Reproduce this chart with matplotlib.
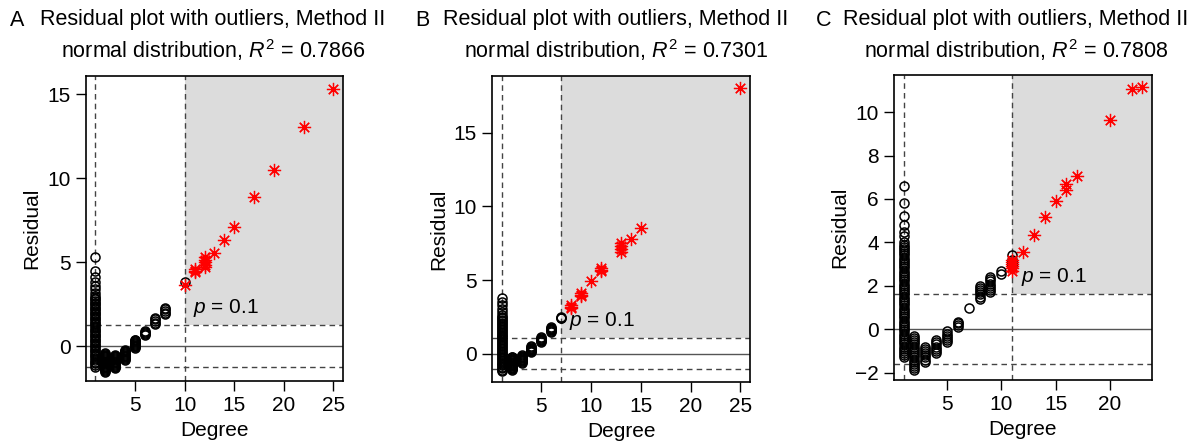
import matplotlib
matplotlib.use("Agg")
import matplotlib.pyplot as plt
import numpy as np

plt.rcParams['font.family'] = ['Liberation Sans', 'DejaVu Sans']
plt.rcParams['mathtext.fontset'] = 'custom'
plt.rcParams['mathtext.rm'] = 'Liberation Sans'
plt.rcParams['mathtext.it'] = 'Liberation Sans:italic'

# ---- data: degree -> residuals ----
circles_A = {
    1: [-1.2, -1.1, -1.0, -0.9, -0.8, -0.7, -0.6, -0.5, -0.4, -0.3, -0.2, -0.1, 0.0, 0.1, 0.2,
        0.3, 0.4, 0.5, 0.6, 0.7, 0.8, 0.9, 1.0, 1.1, 1.2, 1.3, 1.4, 1.5, 1.6, 1.7, 1.8, 1.9,
        2.0, 2.1, 2.2, 2.3, 2.4, 2.5, 2.6, 2.7, 2.8, 2.9, 3.0, 3.2, 3.4, 3.6, 3.8, 4.1, 4.5, 5.3],
    2: [-1.5, -1.45, -1.4, -1.35, -1.3, -1.25, -1.2, -1.15, -1.1, -1.05, -1.0, -0.95, -0.9,
        -0.85, -0.8, -0.75, -0.7, -0.65, -0.6, -0.55, -0.5, -0.45, -0.4],
    3: [-1.3, -1.25, -1.2, -1.15, -1.1, -1.05, -1.0, -0.95, -0.9, -0.85, -0.8, -0.75, -0.7,
        -0.65, -0.6, -0.55, -0.5],
    4: [-0.8, -0.75, -0.7, -0.65, -0.6, -0.55, -0.5, -0.45, -0.4, -0.35, -0.3, -0.25, -0.2],
    5: [-0.1, -0.05, 0.0, 0.05, 0.1, 0.15, 0.2, 0.25, 0.3, 0.35, 0.4],
    6: [0.7, 0.75, 0.8, 0.85, 0.9],
    7: [1.3, 1.4, 1.5, 1.6, 1.7],
    8: [1.9, 2.0, 2.1, 2.2, 2.3],
    10: [3.8],
}
stars_A = {
    10: [3.65], 11: [4.4, 4.5, 4.6], 12: [4.7, 4.85, 5.0, 5.15, 5.3], 13: [5.55],
    14: [6.35], 15: [7.1], 17: [8.85], 19: [10.5], 22: [13.05], 25: [15.3],
}

circles_B = {
    1: [-1.2, -1.1, -1.0, -0.9, -0.8, -0.7, -0.6, -0.5, -0.4, -0.3, -0.2, -0.1, 0.0, 0.1, 0.2,
        0.3, 0.4, 0.5, 0.6, 0.7, 0.8, 0.9, 1.0, 1.1, 1.2, 1.3, 1.4, 1.5, 1.6, 1.7, 1.8, 1.9,
        2.0, 2.1, 2.2, 2.3, 2.4, 2.5, 2.6, 2.8, 3.0, 3.3, 3.5, 3.8],
    2: [-1.1, -1.05, -1.0, -0.95, -0.9, -0.85, -0.8, -0.75, -0.7, -0.65, -0.6, -0.55, -0.5,
        -0.45, -0.4, -0.35, -0.3, -0.25, -0.2],
    3: [-0.6, -0.55, -0.5, -0.45, -0.4, -0.35, -0.3, -0.25, -0.2, -0.15, -0.1],
    4: [0.1, 0.15, 0.2, 0.25, 0.3, 0.35, 0.4, 0.45, 0.5],
    5: [0.8, 0.85, 0.9, 0.95, 1.0, 1.05, 1.1],
    6: [1.5, 1.55, 1.6, 1.65, 1.7, 1.75, 1.8],
    7: [2.4, 2.45, 2.5],
}
stars_B = {
    8: [3.1, 3.2, 3.3], 9: [3.9, 4.0, 4.1], 10: [4.9], 11: [5.6, 5.7, 5.8],
    13: [6.9, 7.1, 7.3, 7.5], 14: [7.8], 15: [8.5], 25: [18.0],
}

circles_C = {
    1: [-1.3, -1.2, -1.1, -1.0, -0.9, -0.8, -0.7, -0.6, -0.5, -0.4, -0.3, -0.2, -0.1, 0.0,
        0.1, 0.2, 0.3, 0.4, 0.5, 0.6, 0.7, 0.8, 0.9, 1.0, 1.1, 1.2, 1.3, 1.4, 1.5, 1.6, 1.7,
        1.8, 1.9, 2.0, 2.1, 2.2, 2.3, 2.4, 2.5, 2.6, 2.7, 2.8, 2.9, 3.0, 3.1, 3.2, 3.3, 3.4,
        3.5, 3.6, 3.7, 3.8, 3.9, 4.0, 4.3, 4.5, 4.8, 5.2, 5.8, 6.6],
    2: [-1.9, -1.8, -1.7, -1.6, -1.5, -1.4, -1.3, -1.2, -1.1, -1.0, -0.9, -0.8, -0.7, -0.6,
        -0.5, -0.4, -0.3],
    3: [-1.5, -1.4, -1.3, -1.2, -1.1, -1.0, -0.9, -0.8],
    4: [-1.1, -1.0, -0.9, -0.8, -0.7, -0.6, -0.5],
    5: [-0.6, -0.5, -0.4, -0.3, -0.2, -0.1],
    6: [0.1, 0.2, 0.3, 0.35],
    7: [1.0],
    8: [1.4, 1.5, 1.6, 1.7, 1.8, 1.9, 2.0],
    9: [1.7, 1.8, 1.9, 2.0, 2.1, 2.2, 2.3, 2.4],
    10: [2.55, 2.7],
    11: [2.9, 3.0, 3.1, 3.2, 3.4],
}
stars_C = {
    11: [2.7, 2.8, 2.9, 3.0, 3.1, 3.2], 12: [3.55], 13: [4.35], 14: [5.15], 15: [5.9],
    16: [6.4, 6.7], 17: [7.05], 20: [9.65], 22: [11.05], 23: [11.15],
}

panels = [
    # letter, title R2, circles, stars, degree cut, residual band, xlim, ylim, xticks, yticks,
    # axes rect, title centre px, letter px
    ("A", "0.7866", circles_A, stars_A, 10, 1.25, -1.22, (0.04, 25.96), (-2.06, 16.07),
     [5, 10, 15, 20, 25], [0, 5, 10, 15], [0.0721, 0.136, 0.2156, 0.6916], 213, 17),
    ("B", "0.7301", circles_B, stars_B, 7, 1.09, -1.02, (0.04, 25.96), (-1.92, 18.85),
     [5, 10, 15, 20, 25], [0, 5, 10, 15], [0.4128, 0.1338, 0.2164, 0.694], 616, 422),
    ("C", "0.7808", circles_C, stars_C, 11, 1.615, -1.6, (0.12, 23.88), (-2.34, 11.71),
     [5, 10, 15, 20], [-2, 0, 2, 4, 6, 8, 10], [0.75, 0.1383, 0.2164, 0.6916], 1016, 824),
]


def flat(d):
    xs, ys = [], []
    for k, v in d.items():
        xs += [k] * len(v)
        ys += v
    return xs, ys


fig = plt.figure(figsize=(11.92, 4.41), dpi=100)
W, H = 1192, 441

for letter, r2, circ, star, cut, hi, lo, xl, yl, xt, yt, rect, tx, lx in panels:
    ax = fig.add_axes(rect)
    ax.set_xlim(xl)
    ax.set_ylim(yl)
    # shaded outlier region
    ax.axvspan(cut, xl[1], ymin=(hi - yl[0]) / (yl[1] - yl[0]), ymax=1,
               color='#dcdcdc', lw=0, zorder=0)
    ax.axhline(0, color='#555555', lw=1, zorder=1)
    ax.axhline(hi, color='#444444', lw=1, ls=(0, (4, 3)), zorder=1)
    ax.axhline(lo, color='#444444', lw=1, ls=(0, (4, 3)), zorder=1)
    ax.axvline(1, color='#444444', lw=1, ls=(0, (4, 3)), zorder=1)
    ax.axvline(cut, color='#444444', lw=1, ls=(0, (4, 3)), zorder=1)

    cx, cy = flat(circ)
    ax.plot(cx, cy, 'o', ms=6.5, mfc='none', mec='black', mew=1.1, zorder=3)
    sx, sy = flat(star)
    ax.plot(sx, sy, ls='none', marker=(8, 2, 0), ms=9.5, mec='red', mew=0.9, zorder=4)

    ax.text(cut + 0.8, hi + 1.0 * (yl[1] - yl[0]) / 18.1, r'$p$ = 0.1', fontsize=15,
            ha='left', va='center', zorder=5)

    ax.set_xticks(xt)
    ax.set_yticks(yt)
    ax.set_yticklabels([str(v).replace('-', '\u2212') for v in yt])
    ax.tick_params(direction='out', length=7, width=1, labelsize=15, pad=4)
    for s in ax.spines.values():
        s.set_linewidth(1.2)
    ax.set_xlabel('Degree', fontsize=15, labelpad=4)
    ax.set_ylabel('Residual', fontsize=15, labelpad=4)

    # two-line title with panel letter
    fig.text(tx / W, 1 - 20 / H, 'Residual plot with outliers, Method II', fontsize=15.5,
             ha='center', va='center')
    fig.text(tx / W, 1 - 50 / H, 'normal distribution, $R^2$ = ' + r2, fontsize=15.5,
             ha='center', va='center')
    fig.text(lx / W, 1 - 20 / H, letter, fontsize=15.5, ha='center', va='center')

fig.savefig('out.png', dpi=100)
